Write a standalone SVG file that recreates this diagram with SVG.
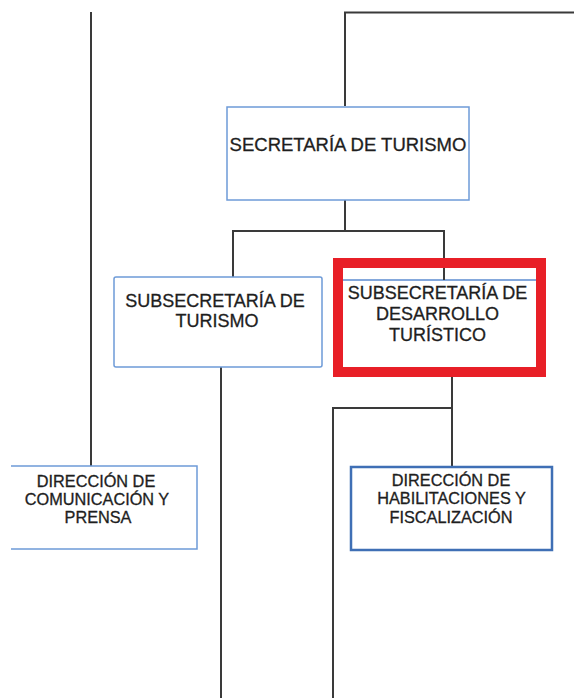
<svg xmlns="http://www.w3.org/2000/svg" width="574" height="698" viewBox="0 0 574 698">
<style>
.c{fill:none;stroke:#3a3a3a;stroke-width:2}
.b{fill:#fff;stroke:#6e9bd8;stroke-width:1.5}
.bd{fill:#fff;stroke:#3f6fb5;stroke-width:2.5}
text{font-family:"Liberation Sans",Arial,sans-serif;fill:#1e1e1e;stroke:#1e1e1e;stroke-width:0.3;text-anchor:middle}
.t1{font-size:18.5px}
.t2{font-size:18px}
.t3{font-size:16.3px}
</style>
<rect width="574" height="698" fill="#fff"/>
<g id="connectors">
<path class="c" d="M345 106V12.5H574"/>
<path class="c" d="M91 12V466"/>
<path class="c" d="M345 200V231H233V277"/>
<path class="c" d="M233 231H444V280"/>
<path class="c" d="M221 367V698"/>
<path class="c" d="M452 377V467"/>
<path class="c" d="M452 408H333V698"/>
</g>
<g id="secretaria">
<rect class="b" x="227" y="107" width="242" height="93"/>
<text class="t1" x="348" y="151">SECRETARÍA DE TURISMO</text>
</g>
<g id="subsec-turismo">
<rect class="b" x="114" y="277" width="208" height="90" rx="2"/>
<text class="t2" x="215" y="307">SUBSECRETARÍA DE</text>
<text class="t2" x="217" y="327">TURISMO</text>
</g>
<g id="subsec-desarrollo">
<rect x="338" y="263" width="203" height="109" fill="#fff" stroke="#e81f27" stroke-width="10"/>
<line x1="343" y1="280" x2="536" y2="280" stroke="#5b8bd0" stroke-width="1.5"/>
<line x1="444" y1="268" x2="444" y2="280" stroke="#3a3a3a" stroke-width="2"/>
<text class="t2" x="437.5" y="299">SUBSECRETARÍA DE</text>
<text class="t2" x="437.5" y="320">DESARROLLO</text>
<text class="t2" x="437.5" y="341">TURÍSTICO</text>
</g>
<g id="dir-comunicacion">
<path class="b" d="M11 466H197V549H11"/>
<text class="t3" x="96" y="487">DIRECCIÓN DE</text>
<text class="t3" x="97" y="505">COMUNICACIÓN Y</text>
<text class="t3" x="98" y="523">PRENSA</text>
</g>
<g id="dir-habilitaciones">
<rect class="bd" x="351" y="467" width="201" height="83"/>
<text class="t3" x="451" y="486">DIRECCIÓN DE</text>
<text class="t3" x="451.5" y="504">HABILITACIONES Y</text>
<text class="t3" x="451" y="523">FISCALIZACIÓN</text>
</g>
</svg>
